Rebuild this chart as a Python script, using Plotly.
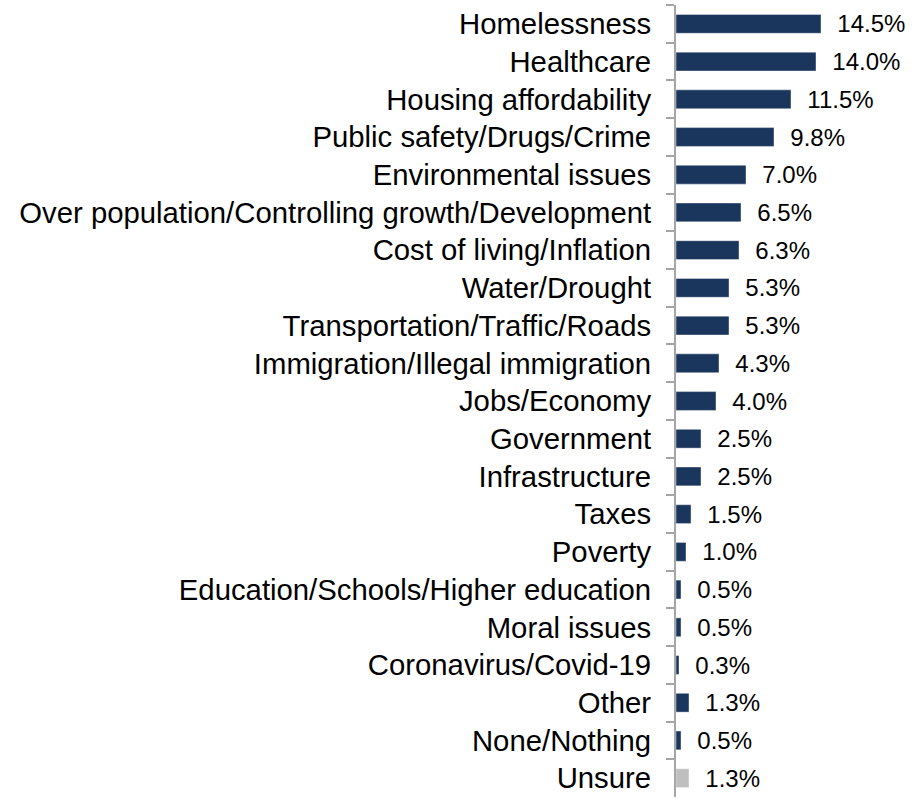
import plotly.graph_objects as go

categories = [
    "Homelessness", "Healthcare", "Housing affordability", "Public safety/Drugs/Crime",
    "Environmental issues", "Over population/Controlling growth/Development",
    "Cost of living/Inflation", "Water/Drought", "Transportation/Traffic/Roads",
    "Immigration/Illegal immigration", "Jobs/Economy", "Government", "Infrastructure",
    "Taxes", "Poverty", "Education/Schools/Higher education", "Moral issues",
    "Coronavirus/Covid-19", "Other", "None/Nothing", "Unsure",
]
values = [14.5, 14.0, 11.5, 9.8, 7.0, 6.5, 6.3, 5.3, 5.3, 4.3, 4.0, 2.5, 2.5,
          1.5, 1.0, 0.5, 0.5, 0.3, 1.3, 0.5, 1.3]

NAVY = "#1B365D"
GRAY = "#BFBFBF"
colors = [GRAY if c == "Unsure" else NAVY for c in categories]
FONT = "Liberation Sans, Arial, sans-serif"

fig = go.Figure(go.Bar(
    x=values,
    y=categories,
    orientation="h",
    marker=dict(color=colors, line=dict(color="rgba(255,255,255,0.4)", width=1)),
    text=["\u00a0\u00a0" + f"{v:.1f}%" for v in values],
    textposition="outside",
    constraintext="none",
    textfont=dict(family=FONT, size=24, color="#000000"),
    cliponaxis=False,
))

fig.update_layout(
    width=915, height=798,
    margin=dict(l=676, r=0, t=5, b=1),
    paper_bgcolor="white", plot_bgcolor="white",
    bargap=0.5,
    showlegend=False,
    font=dict(family=FONT, size=24, color="#000000"),
    xaxis=dict(range=[0, 23.9], visible=False, fixedrange=True),
    yaxis=dict(
        autorange="reversed",
        showline=True, linecolor="#A6A6A6", linewidth=2,
        ticks="outside", ticklen=8, tickcolor="#A6A6A6", tickwidth=2,
        tickson="boundaries",
        ticklabelstandoff=17,
        tickfont=dict(family=FONT, size=29.3, color="#000000"),
        showgrid=False,
    ),
)

fig.write_html("out.html")
